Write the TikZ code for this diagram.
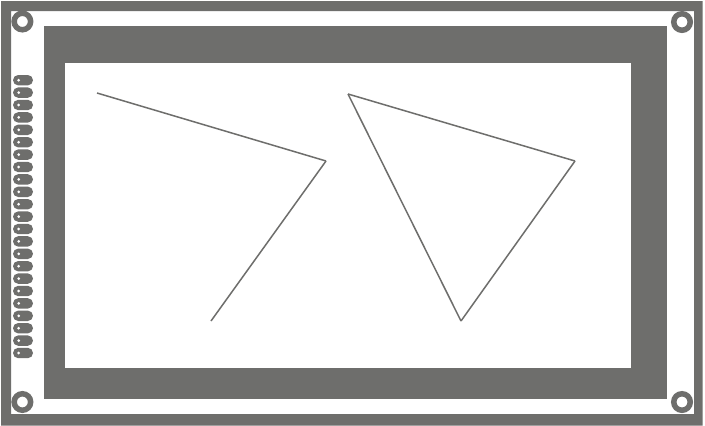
\documentclass[tikz,border=0pt]{standalone}
\definecolor{dg}{HTML}{6E6E6C}
\tikzset{
    frame/.style =  {rectangle,
                    fill=dg,
                    draw=none},
    hole/.style =   {circle,
                    fill=white,
                    draw=dg,
                    line width=5.5pt,
                    inner sep=0pt,
                    minimum size=16.5pt},
    pad/.style =    {rounded corners=5.2pt,
                    fill=dg,
                    draw=none},
    padhole/.style = {circle,
                    fill=white,
                    draw=none,
                    inner sep=0pt,
                    minimum size=3pt},
    wire/.style =   {draw=dg,
                    line width=1.5pt}}
\begin{document}
\begin{tikzpicture}[x=1pt,y=-1pt]
    \useasboundingbox (0,0) rectangle (705,426);
    \fill[white] (0,0) rectangle (705,426);
    % board outline
    \fill[frame,even odd rule] (1,1) rectangle (702.5,425.5) (11,11) rectangle (694,414);
    % display panel
    \fill[frame] (44,26) rectangle (667,399);
    \fill[white] (65,63) rectangle (631,368);
    % mounting holes
    \node[hole] (H1) at (22.4,21.5) {};
    \node[hole] (H2) at (682,22)    {};
    \node[hole] (H3) at (22.4,402)  {};
    \node[hole] (H4) at (682,402)   {};
    % connector pads
    \foreach \i in {0,...,22} {
        \fill[pad] (13,{75+12.4*\i}) rectangle (33,{85.4+12.4*\i});
        \node[padhole] (P\i) at (18.7,{80.2+12.4*\i}) {};
    }
    % open polyline
    \coordinate (A) at (97,93);
    \coordinate (B) at (326,161);
    \coordinate (C) at (211,321);
    \draw[wire] (A) -- (B);
    \draw[wire] (B) -- (C);
    % triangle
    \coordinate (D) at (348,94);
    \coordinate (E) at (575,161);
    \coordinate (F) at (461,321);
    \draw[wire] (D) -- (E);
    \draw[wire] (E) -- (F);
    \draw[wire] (F) -- (D);
\end{tikzpicture}
\end{document}
